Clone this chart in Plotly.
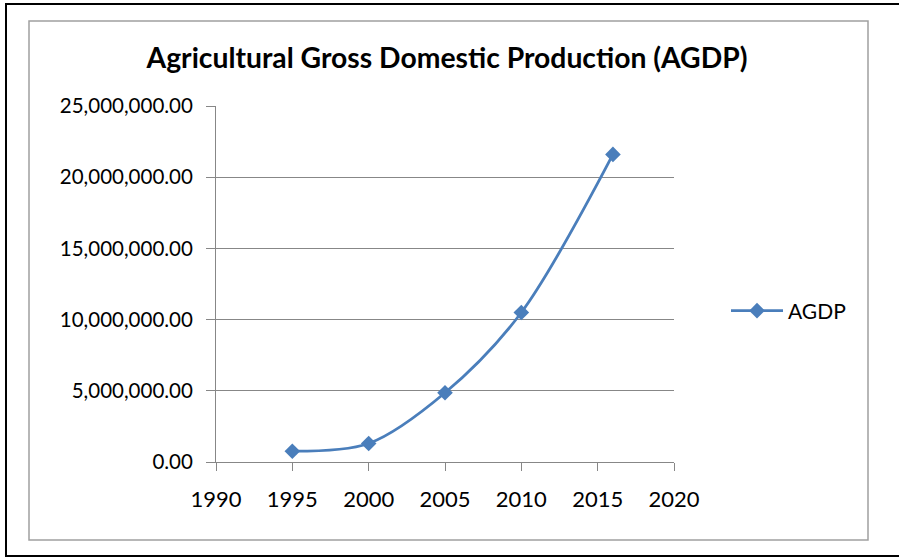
import plotly.graph_objects as go

# AGDP series
years = [1995, 2000, 2005, 2010, 2016]
agdp = [760000, 1300000, 4860000, 10500000, 21600000]

W, H = 899, 558
L, R, T, B = 216, 674, 106, 462  # plot area edges in pixels


def px(x):
    return (x - L) / (R - L)


def py(y):
    return (B - y) / (B - T)


fig = go.Figure()
fig.add_trace(go.Scatter(
    x=years, y=agdp, name="AGDP",
    mode="lines+markers",
    line=dict(color="#4a7ebb", width=2.8, shape="spline", smoothing=0.9),
    marker=dict(symbol="diamond", size=12, color="#4a7ebb"),
))

axis_gray = "#878787"
font_family = "Lato, 'Open Sans', sans-serif"

fig.update_layout(
    width=W, height=H,
    margin=dict(l=L, r=W - R, t=T, b=H - B),
    paper_bgcolor="white", plot_bgcolor="white",
    font=dict(family=font_family, color="#000000", size=21),
    title=dict(
        text="<b>Agricultural Gross Domestic Production (AGDP)</b>",
        x=447 / W, xanchor="center", y=1 - 58 / H, yanchor="middle",
        font=dict(size=28.3, family=font_family, color="#000000"),
    ),
    xaxis=dict(
        range=[1990, 2020], dtick=5, tick0=1990,
        showgrid=False, zeroline=False,
        showline=True, linecolor=axis_gray, linewidth=1,
        ticks="outside", ticklen=8, tickcolor=axis_gray,
        ticklabelstandoff=10,
        tickfont=dict(size=22), fixedrange=True,
    ),
    yaxis=dict(
        range=[0, 25000000], dtick=5000000,
        tickformat=",.2f",
        showgrid=True, gridcolor=axis_gray, gridwidth=1,
        zeroline=False,
        showline=True, linecolor=axis_gray, linewidth=1,
        ticks="outside", ticklen=9, tickcolor=axis_gray,
        ticklabelstandoff=9,
        tickfont=dict(size=20.5), fixedrange=True,
    ),
    legend=dict(
        x=px(726), y=py(311), xanchor="left", yanchor="middle",
        font=dict(size=21), bgcolor="rgba(0,0,0,0)",
        itemwidth=52,
    ),
    showlegend=True,
    shapes=[
        # outer frame
        dict(type="rect", xref="paper", yref="paper",
             x0=px(6), x1=px(W + 5), y0=py(556), y1=py(4),
             line=dict(color="#000000", width=2), layer="below"),
        # chart area frame
        dict(type="rect", xref="paper", yref="paper",
             x0=px(29), x1=px(868), y0=py(540), y1=py(21),
             line=dict(color="#a0a0a0", width=1.5), layer="below"),
    ],
)

fig.write_html("out.html")
